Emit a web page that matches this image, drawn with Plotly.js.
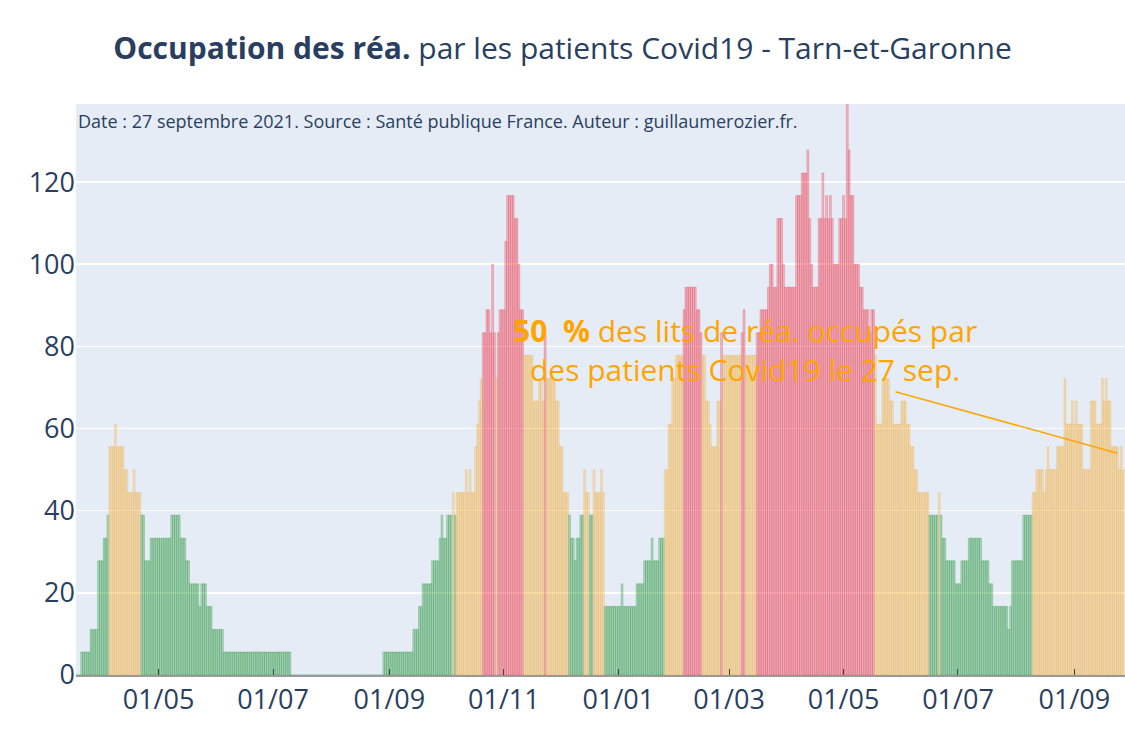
<!DOCTYPE html>
<html>
<head>
<meta charset="utf-8">
<script src="https://cdn.plot.ly/plotly-3.0.1.min.js"></script>
<style>
html,body{margin:0;padding:0;background:#ffffff;}
#chart{width:1125px;height:750px;}
</style>
</head>
<body>
<div id="chart"></div>
<script>
// First day of the daily series (one bar per day)
const startDate = "2020-03-18";

// Occupation des lits de réanimation (%), one value per day from 18/03/2020 to 27/09/2021
const occupation = [
  // 18/03/2020 ->
  0,0,0,5.6,5.6,5.6,5.6,5.6,11.1,11.1,11.1,11.1,27.8,27.8,27.8,33.3,33.3,38.9,
  55.6,55.6,55.6,61.1,55.6,55.6,55.6,55.6,50,50,44.4,44.4,44.4,50,44.4,44.4,44.4,
  38.9,38.9,27.8,27.8,27.8,33.3,33.3,33.3,33.3,33.3,33.3,33.3,33.3,33.3,33.3,33.3,
  38.9,38.9,38.9,38.9,38.9,33.3,33.3,33.3,27.8,27.8,
  22.2,22.2,22.2,22.2,22.2,16.7,22.2,22.2,22.2,16.7,16.7,16.7,11.1,11.1,11.1,11.1,11.1,11.1,
  5.6,5.6,5.6,5.6,5.6,5.6,5.6,5.6,5.6,5.6,5.6,5.6,5.6,5.6,5.6,5.6,5.6,5.6,
  5.6,5.6,5.6,5.6,5.6,5.6,5.6,5.6,5.6,5.6,5.6,5.6,5.6,5.6,5.6,5.6,5.6,5.6,
  0,0,0,0,0,0,0,0,0,0,0,0,0,0,0,0,0,0,0,0,0,0,0,0,0,
  0,0,0,0,0,0,0,0,0,0,0,0,0,0,0,0,0,0,0,0,0,0,0,0,
  // 29/08/2020 ->
  5.6,5.6,5.6,5.6,5.6,5.6,5.6,5.6,5.6,5.6,5.6,5.6,5.6,5.6,5.6,5.6,
  11.1,11.1,11.1,16.7,16.7,22.2,22.2,22.2,22.2,22.2,27.8,27.8,27.8,27.8,
  33.3,38.9,33.3,33.3,38.9,38.9,38.9,44.4,38.9,
  44.4,44.4,44.4,44.4,44.4,50,44.4,50,44.4,44.4,55.6,61.1,66.7,72.2,
  83.3,83.3,88.9,88.9,83.3,100,83.3,72.2,83.3,88.9,88.9,88.9,105.6,
  116.7,116.7,116.7,116.7,111.1,111.1,100,88.9,88.9,
  77.8,77.8,77.8,77.8,77.8,66.7,66.7,66.7,72.2,72.2,66.7,83.3,
  72.2,72.2,72.2,72.2,72.2,66.7,66.7,55.6,55.6,44.4,44.4,44.4,
  38.9,33.3,33.3,27.8,33.3,33.3,38.9,38.9,50,44.4,44.4,38.9,38.9,50,44.4,44.4,44.4,50,44.4,
  // 27/12/2020 ->
  16.7,16.7,16.7,16.7,16.7,16.7,16.7,16.7,16.7,22.2,16.7,16.7,16.7,16.7,16.7,16.7,16.7,
  22.2,22.2,22.2,22.2,27.8,27.8,27.8,27.8,33.3,27.8,27.8,27.8,33.3,33.3,33.3,
  50,50,61.1,61.1,72.2,72.2,77.8,77.8,77.8,77.8,88.9,
  94.4,94.4,94.4,94.4,94.4,94.4,88.9,88.9,83.3,77.8,77.8,66.7,66.7,61.1,55.6,55.6,55.6,
  66.7,66.7,83.3,77.8,77.8,77.8,77.8,77.8,77.8,77.8,77.8,77.8,77.8,83.3,88.9,
  // 17/03/2021 ->
  77.8,77.8,77.8,77.8,77.8,77.8,83.3,83.3,88.9,88.9,88.9,88.9,
  94.4,100,100,94.4,94.4,111.1,111.1,111.1,100,94.4,94.4,94.4,94.4,94.4,94.4,
  116.7,116.7,116.7,122.2,122.2,122.2,127.8,111.1,100,94.4,94.4,94.4,
  111.1,111.1,122.2,111.1,116.7,111.1,116.7,111.1,100,100,100,
  111.1,111.1,116.7,111.1,138.9,127.8,116.7,116.7,100,100,100,94.4,94.4,
  88.9,88.9,88.9,83.3,88.9,88.9,77.8,
  // 19/05/2021 ->
  61.1,61.1,61.1,72.2,72.2,72.2,72.2,66.7,66.7,61.1,61.1,61.1,61.1,66.7,66.7,66.7,
  61.1,61.1,55.6,55.6,50,50,44.4,44.4,44.4,44.4,44.4,44.4,
  38.9,38.9,38.9,38.9,38.9,44.4,38.9,33.3,33.3,27.8,27.8,27.8,27.8,27.8,22.2,22.2,22.2,
  27.8,27.8,27.8,27.8,33.3,33.3,33.3,33.3,33.3,33.3,33.3,27.8,27.8,27.8,27.8,22.2,22.2,
  16.7,16.7,16.7,16.7,16.7,16.7,16.7,16.7,11.1,16.7,27.8,27.8,27.8,27.8,27.8,27.8,
  38.9,38.9,38.9,38.9,38.9,
  // 09/08/2021 ->
  44.4,44.4,50,50,50,50,44.4,50,55.6,50,50,50,50,
  55.6,55.6,55.6,55.6,72.2,61.1,61.1,61.1,66.7,61.1,66.7,61.1,61.1,61.1,
  50,50,50,50,66.7,66.7,66.7,61.1,61.1,61.1,72.2,66.7,72.2,66.7,66.7,
  55.6,55.6,55.6,55.6,50,55.6,50
];

// Colour thresholds (%)
const seuilOrange = 40;
const seuilRouge = 80;

const titleText = "<b>Occupation des réa.</b> par les patients Covid19 - Tarn-et-Garonne";
const subtitleText = "Date : 27 septembre 2021. Source : Santé publique France. Auteur : guillaumerozier.fr.";
const yTicks = [0, 20, 40, 60, 80, 100, 120];

// Build the date axis: one date per value
function addDays(iso, n) {
  const d = new Date(iso + "T00:00:00Z");
  d.setUTCDate(d.getUTCDate() + n);
  return d.toISOString().slice(0, 10);
}
const dates = occupation.map((_, i) => addDays(startDate, i));

function fillColor(v) {
  if (v > seuilRouge) return "rgba(255,60,80,0.3)";
  if (v >= seuilOrange) return "rgba(255,180,60,0.3)";
  return "rgba(40,160,60,0.3)";
}
function lineColor(v) {
  if (v > seuilRouge) return "rgba(225,50,70,0.55)";
  if (v >= seuilOrange) return "rgba(240,170,50,0.5)";
  return "rgba(30,140,50,0.5)";
}

const last = occupation.length - 1;
const lastValue = occupation[last];
const recent = occupation.slice(last - 6);
const recentMean = recent.reduce((a, b) => a + b, 0) / recent.length;

const trace = {
  type: "bar",
  x: dates,
  y: occupation,
  marker: {
    color: occupation.map(fillColor),
    line: { color: occupation.map(lineColor), width: 0.5 }
  },
  hoverinfo: "x+y"
};

const layout = {
  width: 1125,
  height: 750,
  margin: { l: 76, r: 0, t: 104, b: 75 },
  paper_bgcolor: "#ffffff",
  plot_bgcolor: "#E5ECF6",
  font: { family: "Open Sans, verdana, arial, sans-serif", color: "#2a3f5f" },
  bargap: 0,
  showlegend: false,
  title: {
    text: titleText,
    x: 0.5, xanchor: "center",
    y: 0.935, yanchor: "middle",
    font: { size: 30, color: "#2a3f5f" }
  },
  xaxis: {
    type: "date",
    range: [startDate, addDays(startDate, occupation.length)],
    tickformat: "%d/%m",
    dtick: "M2",
    tick0: "2020-01-01",
    ticks: "inside",
    ticklen: 6,
    tickcolor: "#444",
    showgrid: false,
    showline: true,
    linecolor: "#999999",
    linewidth: 2,
    tickfont: { size: 27, color: "#2a3f5f" }
  },
  yaxis: {
    range: [0, 139],
    tickvals: yTicks,
    gridcolor: "#ffffff",
    gridwidth: 1.5,
    zeroline: false,
    tickfont: { size: 27, color: "#2a3f5f" }
  },
  annotations: [
    {
      xref: "paper", yref: "paper",
      x: 0, y: 1, xanchor: "left", yanchor: "top",
      xshift: 0, yshift: -3,
      text: subtitleText,
      showarrow: false,
      font: { size: 18, color: "#2a3f5f" }
    },
    {
      x: dates[last - 3],
      y: recentMean,
      xref: "x", yref: "y",
      text: "<b>" + lastValue + "\u00a0 %</b> des lits de réa. occupés par<br>des patients Covid19 le 27 sep.",
      showarrow: true,
      arrowhead: 0,
      arrowwidth: 1.5,
      arrowcolor: "orange",
      ax: -372, ay: -103,
      font: { size: 30, color: "orange" }
    }
  ]
};

Plotly.newPlot("chart", [trace], layout, { displayModeBar: false, staticPlot: true });
</script>
</body>
</html>
